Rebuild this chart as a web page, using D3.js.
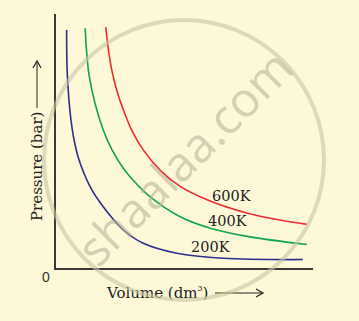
<!DOCTYPE html>
<html>
<head>
<meta charset="utf-8">
<script src="https://cdn.jsdelivr.net/npm/d3@7"></script>
<style>
  html, body { margin: 0; padding: 0; background: #fdf9d8; }
</style>
</head>
<body>
<script>
// isotherms: volume (dm3) vs pressure (bar), arbitrary units 0..10
var vol200 = [0.45, 0.47, 0.54, 0.62, 0.74, 0.93, 1.36, 1.87, 2.65, 3.42, 4.72, 6.51, 9.61];
var p200   = [9.37, 7.80, 6.63, 5.84, 5.06, 4.28, 3.23, 2.44, 1.53, 1.01, 0.62, 0.42, 0.37];
var vol400 = [1.17, 1.22, 1.32, 1.55, 1.87, 2.21, 2.64, 3.02, 3.61, 4.85, 6.12, 7.56, 9.76];
var p400   = [9.44, 8.59, 7.61, 6.50, 5.45, 4.67, 3.96, 3.49, 2.90, 2.05, 1.57, 1.26, 0.96];
var vol600 = [1.97, 2.07, 2.20, 2.39, 2.65, 2.97, 3.42, 4.07, 4.88, 6.01, 7.43, 8.72, 9.76];
var p600   = [9.48, 8.59, 7.80, 7.02, 6.24, 5.45, 4.67, 3.88, 3.22, 2.67, 2.20, 1.92, 1.75];
var seriesNames = ["200K", "400K", "600K"];
var labelPos = [[5.27, 0.67], [5.93, 1.69], [6.09, 2.67]]; // label anchor in data units

var width = 359, height = 321;
var x0 = 55, x1 = 313, y0 = 269, y1 = 14;

var svg = d3.select("body").append("svg")
    .attr("width", width)
    .attr("height", height)
    .style("display", "block");

svg.append("rect")
    .attr("width", width)
    .attr("height", height)
    .attr("fill", "#fdf9d8");

var x = d3.scaleLinear().domain([0, 10]).range([x0, x1]);
var y = d3.scaleLinear().domain([0, 10]).range([y0, y1]);

var series = [
  {name: seriesNames[0], color: "#2c2f8e", pts: d3.zip(vol200, p200)},
  {name: seriesNames[1], color: "#0fa54b", pts: d3.zip(vol400, p400)},
  {name: seriesNames[2], color: "#ee2b2e", pts: d3.zip(vol600, p600)}
];

var line = d3.line()
    .x(function(d){ return x(d[0]); })
    .y(function(d){ return y(d[1]); })
    .curve(d3.curveCatmullRom.alpha(0.5));

svg.selectAll("path.iso")
    .data(series)
    .enter()
    .append("path")
    .attr("class", "iso")
    .attr("d", function(d){ return line(d.pts); })
    .attr("fill", "none")
    .attr("stroke", function(d){ return d.color; })
    .attr("stroke-width", 1.6);

// axes (plain lines, no ticks)
svg.append("line")
    .attr("x1", x(0)).attr("y1", y(0) + 1)
    .attr("x2", x(0)).attr("y2", y(10))
    .attr("stroke", "#3b3a36").attr("stroke-width", 2);
svg.append("line")
    .attr("x1", x(0) - 1).attr("y1", y(0))
    .attr("x2", x(10)).attr("y2", y(0))
    .attr("stroke", "#3b3a36").attr("stroke-width", 2);

var serif = "'DejaVu Serif', serif";

svg.append("text")
    .attr("x", 46).attr("y", 282)
    .attr("text-anchor", "middle")
    .attr("font-family", "'Liberation Sans', sans-serif")
    .attr("font-size", "14px")
    .attr("fill", "#333")
    .text("0");

// curve labels
svg.selectAll("text.lab")
    .data(series)
    .enter()
    .append("text")
    .attr("class", "lab")
    .attr("x", function(d, i){ return x(labelPos[i][0]); })
    .attr("y", function(d, i){ return y(labelPos[i][1]); })
    .attr("font-family", serif)
    .attr("font-size", "14.5px")
    .attr("fill", "#222")
    .text(function(d){ return d.name; });

// x axis title
var xt = svg.append("text")
    .attr("x", 107).attr("y", 298)
    .attr("font-family", serif)
    .attr("font-size", "15px")
    .attr("fill", "#222");
xt.append("tspan").text("Volume (dm");
xt.append("tspan").attr("font-size", "8px").attr("dy", -7).text("3");
xt.append("tspan").attr("dy", 7).text(")");
svg.append("line")
    .attr("x1", 215).attr("y1", 293).attr("x2", 262).attr("y2", 293)
    .attr("stroke", "#222").attr("stroke-width", 1);
svg.append("path")
    .attr("d", "M256,289 L263,293 L256,297")
    .attr("fill", "none").attr("stroke", "#222").attr("stroke-width", 1.2);

// y axis title
svg.append("text")
    .attr("transform", "translate(42,221) rotate(-90)")
    .attr("font-family", serif)
    .attr("font-size", "15px")
    .attr("fill", "#222")
    .text("Pressure (bar)");
svg.append("line")
    .attr("x1", 37).attr("y1", 108).attr("x2", 37).attr("y2", 62)
    .attr("stroke", "#222").attr("stroke-width", 1);
svg.append("path")
    .attr("d", "M33,68 L37,61 L41,68")
    .attr("fill", "none").attr("stroke", "#222").attr("stroke-width", 1.2);

// watermark
svg.append("circle")
    .attr("cx", 184).attr("cy", 160).attr("r", 140)
    .attr("fill", "none")
    .attr("stroke", "#c8c4a4")
    .attr("stroke-opacity", 0.6)
    .attr("stroke-width", 4);
svg.append("text")
    .attr("transform", "translate(185,158) rotate(-45)")
    .attr("text-anchor", "middle")
    .attr("dy", "0.35em")
    .attr("font-family", "'Open Sans', sans-serif")
    .attr("font-size", "48px")
    .attr("fill", "#b8b49a")
    .attr("fill-opacity", 0.6)
    .text("shaalaa.com");
</script>
</body>
</html>
